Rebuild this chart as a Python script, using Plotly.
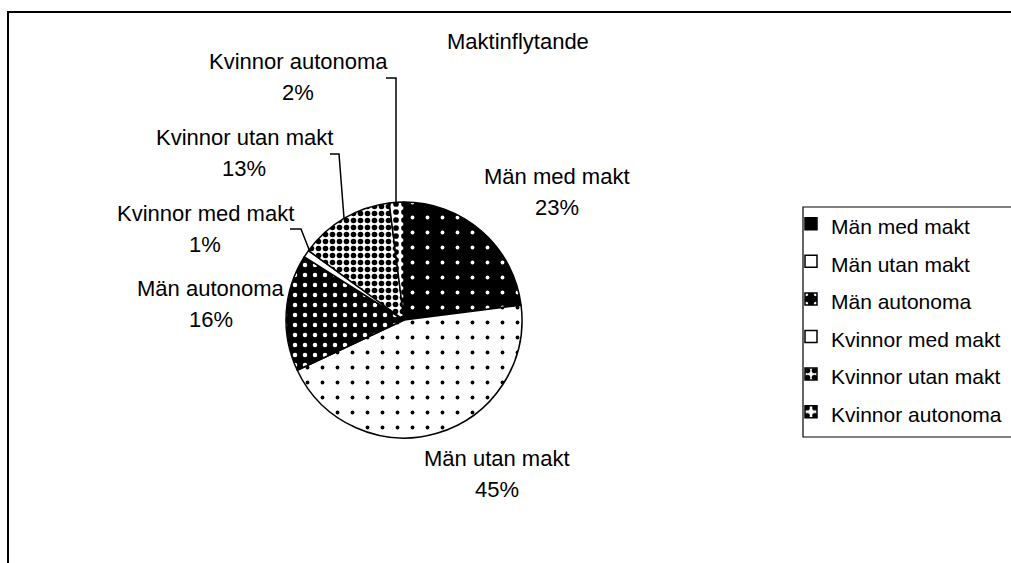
import plotly.graph_objects as go

W, H = 1011, 563

# ---------------- data ----------------
categories = ["Män med makt", "Män utan makt", "Män autonoma",
              "Kvinnor med makt", "Kvinnor utan makt", "Kvinnor autonoma"]
values = [23, 45, 16, 1, 13, 2]
chart_title = "Maktinflytande"

# ---------------- styles ----------------
bg_colors = ["black", "white", "black", "white", "white", "white"]
pat_shapes = [".", ".", ".", "", ".", "."]
pat_fg = ["white", "black", "white", "black", "black", "black"]
pat_size = [15, 15, 10, 8, 7, 8]
pat_solid = [0.05, 0.05, 0.16, 0.1, 0.5, 0.4]

FONT = "Liberation Sans, Arial, sans-serif"
FS = 22
LEG_FS = 21

# pie geometry (px)
cx, cy, r = 404, 320, 118

# label positions in px (centre of the name line), one per category
label_px = [(557, 177), (497, 458), (211, 288), (205, 213), (244, 137), (298, 61)]
pct_dy = 31
# leader lines (px polylines) for the small slices
leaders = {
    5: [(386, 78), (396, 78), (396, 204)],
    4: [(330, 154), (339, 154), (344, 218)],
    3: [(290, 229), (301, 229), (310, 252)],
}


def px(x):
    return x / W


def py(y):
    return 1 - y / H


legend_labels = [f'<span style="font-size:{LEG_FS}px">{c}</span>' for c in categories]

fig = go.Figure(go.Pie(
    labels=legend_labels,
    values=values,
    sort=False,
    direction="clockwise",
    rotation=0,
    textinfo="none",
    hoverinfo="label+percent",
    marker=dict(
        colors=bg_colors,
        line=dict(color="black", width=1.5),
        pattern=dict(shape=pat_shapes, fgcolor=pat_fg, bgcolor=bg_colors,
                     size=pat_size, solidity=pat_solid, fgopacity=1,
                     fillmode="replace"),
    ),
    domain=dict(x=[px(cx - r), px(cx + r)], y=[py(cy + r), py(cy - r)]),
))

annotations = []
for i, (name, v) in enumerate(zip(categories, values)):
    lx, ly = label_px[i]
    annotations.append(dict(x=px(lx), y=py(ly), xref="paper", yref="paper",
                            text=name, showarrow=False, xanchor="center", yanchor="middle",
                            font=dict(family=FONT, size=FS, color="black")))
    annotations.append(dict(x=px(lx), y=py(ly + pct_dy), xref="paper", yref="paper",
                            text=f"{v}%", showarrow=False, xanchor="center", yanchor="middle",
                            font=dict(family=FONT, size=FS, color="black")))
annotations.append(dict(x=px(518), y=py(42), xref="paper", yref="paper",
                        text=chart_title, showarrow=False, xanchor="center", yanchor="middle",
                        font=dict(family=FONT, size=FS, color="black")))

shapes = []
# outer frame
shapes.append(dict(type="rect", xref="paper", yref="paper",
                   x0=px(8), y0=py(600), x1=px(1040), y1=py(12),
                   line=dict(color="black", width=2), layer="below"))
# legend box
shapes.append(dict(type="rect", xref="paper", yref="paper",
                   x0=px(803), y0=py(437), x1=px(1040), y1=py(207),
                   line=dict(color="black", width=1.2)))
for i, pts in leaders.items():
    path = "M " + " L ".join(f"{px(x)},{py(y)}" for x, y in pts)
    shapes.append(dict(type="path", xref="paper", yref="paper", path=path,
                       line=dict(color="black", width=1.5)))

fig.update_layout(
    width=W, height=H, autosize=False,
    margin=dict(l=0, r=0, t=0, b=0),
    paper_bgcolor="white", plot_bgcolor="white",
    showlegend=True,
    legend=dict(x=px(791), y=py(200), xanchor="left", yanchor="top",
                font=dict(family=FONT, size=26.6, color="black"),
                bgcolor="rgba(0,0,0,0)", borderwidth=0, itemwidth=30,
                traceorder="normal"),
    annotations=annotations,
    shapes=shapes,
)

fig.write_html(
    "out.html", config={"displayModeBar": False},
    post_script="document.body.style.margin='0';",
)
